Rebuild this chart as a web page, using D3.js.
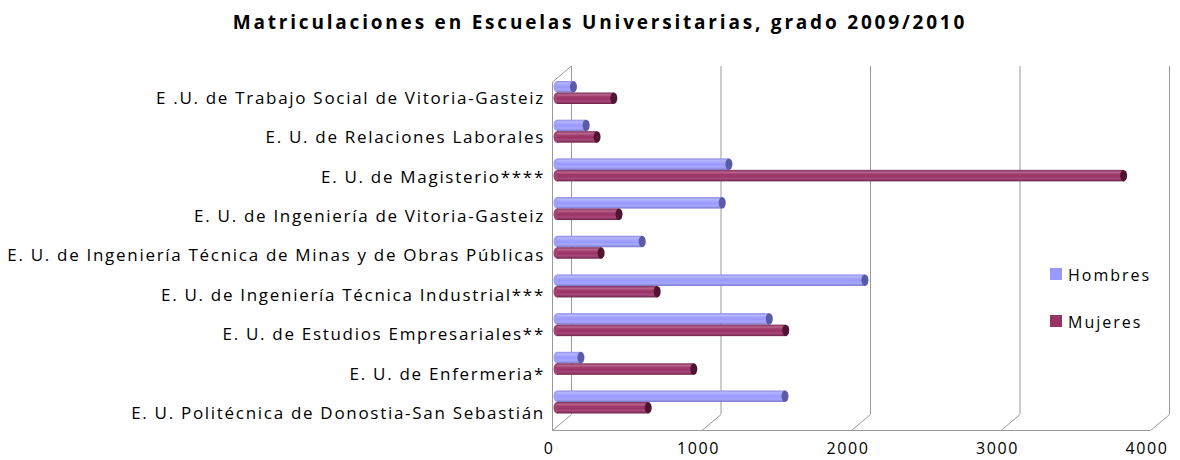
<!DOCTYPE html>
<html>
<head>
<meta charset="utf-8">
<script src="https://cdn.jsdelivr.net/npm/d3@7"></script>
<style>
  body { margin: 0; background: #fff; }
  svg { display: block; font-family: "Open Sans", Lato, sans-serif; }
</style>
</head>
<body>
<svg id="chart" width="1180" height="460"></svg>
<script>
// data
const categories = [
    "E .U. de Trabajo Social de Vitoria-Gasteiz",
    "E. U. de Relaciones Laborales",
    "E. U. de Magisterio****",
    "E. U. de Ingeniería de Vitoria-Gasteiz",
    "E. U. de Ingeniería Técnica de Minas y de Obras Públicas",
    "E. U. de Ingeniería Técnica Industrial***",
    "E. U. de Estudios Empresariales**",
    "E. U. de Enfermeria*",
    "E. U. Politécnica de Donostia-San Sebastián"
];
const hombres = [110, 195, 1150, 1105, 570, 2060, 1420, 160, 1525];
const mujeres = [380, 268, 3790, 415, 295, 670, 1530, 915, 610];
const xTicks = [0, 1000, 2000, 3000, 4000];
const seriesNames = ["Hombres", "Mujeres"];

const svg = d3.select("#chart");

// 3D depth offset of back wall
const depthX = 19, depthY = -16;
const floorY = 430, wallTop = 82;

const xFront = d3.scaleLinear().domain([0, 4000]).range([552, 1150]);
const xBar = d3.scaleLinear().domain([0, 4000]).range([557, 1155]);
const yPair = d3.scalePoint().domain(categories).range([92.5, 402]);
const yLabel = d3.scalePoint().domain(categories).range([98, 413]);

// gradients for cylinders
const defs = svg.append("defs");
function cylGrad(id, stops) {
    const g = defs.append("linearGradient").attr("id", id)
        .attr("x1", 0).attr("y1", 0).attr("x2", 0).attr("y2", 1);
    stops.forEach(s => g.append("stop").attr("offset", s[0]).attr("stop-color", s[1]));
}
cylGrad("gH", [[0, "#8c8ce8"], [0.2, "#b8b8ff"], [0.35, "#a3a3ff"], [0.55, "#9999ff"], [0.75, "#a8a8ff"], [1, "#7a7acc"]]);
cylGrad("gM", [[0, "#7d2a55"], [0.2, "#b8668e"], [0.35, "#a34070"], [0.55, "#993366"], [0.75, "#a8487a"], [1, "#6e2448"]]);

// grid: back wall verticals, floor diagonals, front floor line
const grid = svg.append("g").attr("stroke", "#999").attr("stroke-width", 1).attr("fill", "none");
xTicks.forEach(t => {
    const x = xFront(t);
    grid.append("line").attr("x1", x + depthX + 0.5).attr("x2", x + depthX + 0.5)
        .attr("y1", wallTop + depthY).attr("y2", floorY + depthY);
    grid.append("line").attr("x1", x + 0.5).attr("y1", floorY + 0.5)
        .attr("x2", x + depthX + 0.5).attr("y2", floorY + depthY + 0.5);
});
grid.append("line").attr("x1", xFront(0)).attr("x2", xFront(4000))
    .attr("y1", floorY + 0.5).attr("y2", floorY + 0.5);
// left side wall
grid.append("line").attr("x1", xFront(0) + 0.5).attr("x2", xFront(0) + 0.5)
    .attr("y1", wallTop).attr("y2", floorY);
grid.append("line").attr("x1", xFront(0) + 0.5).attr("y1", wallTop)
    .attr("x2", xFront(0) + depthX + 0.5).attr("y2", wallTop + depthY);

// cylinders
const barH = 11.5, capRx = 3.5;
function drawCyl(g, value, yTop, grad, capColor, startColor) {
    const x0 = xBar(0), x1 = xBar(value);
    g.append("ellipse").attr("cx", x0).attr("cy", yTop + barH / 2)
        .attr("rx", capRx).attr("ry", barH / 2).attr("fill", startColor);
    g.append("rect").attr("x", x0).attr("y", yTop).attr("width", x1 - x0).attr("height", barH)
        .attr("fill", `url(#${grad})`);
    g.append("ellipse").attr("cx", x1).attr("cy", yTop + barH / 2)
        .attr("rx", capRx).attr("ry", barH / 2).attr("fill", capColor);
}
const bars = svg.append("g");
categories.forEach((c, i) => {
    const yc = yPair(c);
    drawCyl(bars, hombres[i], yc - barH, "gH", "#5a5aa6", "#a0a0f5");
    drawCyl(bars, mujeres[i], yc, "gM", "#4f1533", "#a04472");
});

// category labels
svg.append("g").selectAll("text").data(categories).join("text")
    .attr("x", 545).attr("y", d => yLabel(d)).attr("dy", "0.35em")
    .attr("text-anchor", "end").attr("font-size", 17).attr("letter-spacing", 1.7)
    .attr("fill", "#000").text(d => d);

// x tick labels
svg.append("g").selectAll("text").data(xTicks).join("text")
    .attr("x", d => xFront(d) - 3).attr("y", 448).attr("dy", "0.35em")
    .attr("text-anchor", "middle").attr("font-size", 16).attr("letter-spacing", 1.6)
    .text(d => d);

// legend (white backing hides the gridline)
const legend = svg.append("g").attr("transform", "translate(1050,250)");
legend.append("rect").attr("x", -8).attr("y", 0).attr("width", 125).attr("height", 96).attr("fill", "#fff");
const colors = ["#9999ff", "#993366"];
seriesNames.forEach((s, i) => {
    legend.append("rect").attr("x", 0).attr("y", 18 + i * 47).attr("width", 12).attr("height", 12)
        .attr("fill", colors[i]);
    legend.append("text").attr("x", 18).attr("y", 25 + i * 47).attr("dy", "0.35em")
        .attr("font-size", 16).attr("letter-spacing", 2).text(s);
});

// title
svg.append("text").attr("x", 600).attr("y", 22).attr("dy", "0.35em")
    .attr("text-anchor", "middle").attr("font-size", 19).attr("font-weight", "bold")
    .attr("letter-spacing", 2.8)
    .text("Matriculaciones en Escuelas Universitarias, grado 2009/2010");
</script>
</body>
</html>
